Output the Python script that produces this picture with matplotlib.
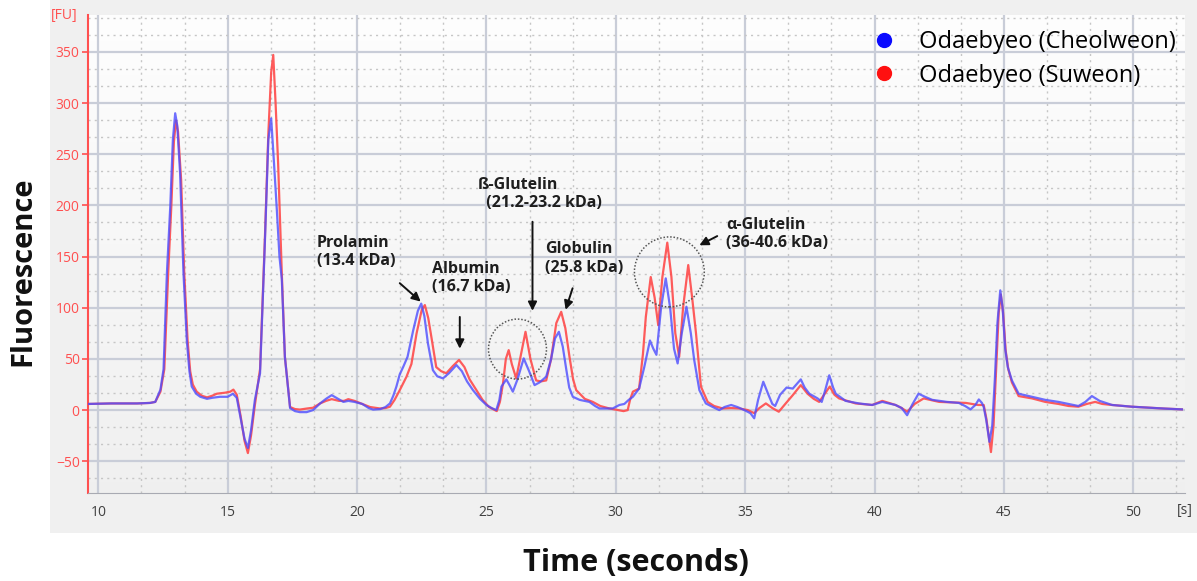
import numpy as np
import matplotlib.pyplot as plt
from matplotlib.lines import Line2D
from matplotlib.patches import Ellipse, Rectangle
from matplotlib.ticker import MultipleLocator

plt.rcParams['font.family'] = ['Open Sans', 'DejaVu Sans']

# ---- data ----
t_cheolweon = [9.6, 10.5, 11.5, 12.0, 12.2, 12.4, 12.52, 12.65, 12.78, 12.88, 12.97, 13.05, 13.16, 13.29,
               13.42, 13.52, 13.61, 13.78, 13.94, 14.2, 14.4, 14.7, 15.0, 15.2, 15.35, 15.5, 15.65, 15.78,
               15.9, 16.05, 16.25, 16.44, 16.57, 16.68, 16.79, 16.9, 17.0, 17.09, 17.21, 17.41, 17.6, 17.79,
               18.05, 18.3, 18.57, 18.8, 19.02, 19.2, 19.47, 19.66, 19.9, 20.2, 20.45, 20.62, 20.9, 21.1,
               21.27, 21.4, 21.52, 21.65, 21.78, 21.95, 22.17, 22.35, 22.48, 22.6, 22.74, 22.93, 23.1, 23.32,
               23.55, 23.84, 24.05, 24.25, 24.48, 24.75, 25.0, 25.2, 25.38, 25.5, 25.58, 25.77, 25.9, 26.02,
               26.2, 26.44, 26.65, 26.86, 27.05, 27.31, 27.5, 27.65, 27.8, 27.95, 28.09, 28.2, 28.34, 28.6,
               28.98, 29.2, 29.37, 29.88, 30.14, 30.33, 30.5, 30.66, 30.9, 31.1, 31.32, 31.45, 31.57, 31.75,
               31.93, 32.1, 32.25, 32.39, 32.55, 32.73, 32.9, 33.03, 33.23, 33.48, 33.75, 34.0, 34.2, 34.46,
               34.7, 34.97, 35.2, 35.35, 35.5, 35.7, 35.9, 36.05, 36.16, 36.35, 36.6, 36.84, 37.15, 37.3,
               37.48, 37.8, 37.96, 38.1, 38.25, 38.4, 38.5, 38.88, 39.4, 39.91, 40.3, 40.81, 41.05, 41.26,
               41.45, 41.7, 41.95, 42.23, 42.8, 43.26, 43.5, 43.71, 43.9, 44.03, 44.15, 44.22, 44.32, 44.44,
               44.55, 44.65, 44.75, 44.86, 44.95, 45.05, 45.15, 45.31, 45.57, 46.09, 46.6, 47.11, 47.5, 47.88,
               48.15, 48.4, 48.7, 49.18, 49.95, 50.5, 51.2, 51.88]
fu_cheolweon = [6, 6.5, 6.5, 7, 8, 20, 40, 134, 199, 264, 290, 278, 231, 134,
                68, 38, 23, 16, 13, 11, 12, 13, 13, 16, 12, -8, -28, -37,
                -20, 10, 36, 166, 264, 285, 241, 195, 150, 128, 52, 2, -1, -2,
                -2, 0, 6.5, 11, 14.6, 12, 8, 9, 8, 6, 2, 0.5, 1, 3,
                6.5, 14, 23, 35, 42, 52, 78, 97, 104, 92, 65, 39, 33, 31,
                36, 44, 38, 28, 19.5, 11, 5, 2, 0, 10, 23, 30, 24, 18,
                30, 50.5, 38, 24.4, 27, 32.6, 50, 70, 76.5, 62, 39, 22, 13, 10,
                8, 4, 1.6, 1.6, 5, 6, 10, 13, 21, 42, 68, 60, 54, 100,
                128.7, 100, 60, 45.6, 75, 101, 75, 49, 19.5, 6.5, 3, 0, 3, 5,
                3, 0, -3, -8, 10, 27.7, 15, 6, 4, 15, 22, 21, 30, 22,
                16, 11.4, 8, 20, 34, 22, 16, 9, 6.5, 5, 8, 5, 2, -5,
                5, 16, 13, 10, 8, 7, 4, 0.7, 5, 10.4, 7, 3, -10, -31,
                -15, 30, 85, 117, 100, 60, 42, 29, 16, 13, 10, 8, 6, 4,
                8, 13.7, 9, 5, 3.3, 2.5, 1.5, 0.7]

t_suweon = [9.6, 10.5, 11.5, 12.0, 12.2, 12.4, 12.55, 12.7, 12.82, 12.92, 13.0, 13.08, 13.2, 13.32,
            13.45, 13.55, 13.65, 13.8, 14.0, 14.2, 14.4, 14.58, 14.9, 15.1, 15.22, 15.35, 15.5, 15.65,
            15.78, 15.9, 16.05, 16.25, 16.44, 16.57, 16.68, 16.76, 16.85, 16.95, 17.09, 17.21, 17.41, 17.6,
            17.79, 18.05, 18.3, 18.57, 18.8, 19.02, 19.3, 19.5, 19.66, 19.9, 20.2, 20.5, 20.88, 21.1,
            21.27, 21.45, 21.65, 21.78, 21.91, 22.1, 22.3, 22.5, 22.62, 22.75, 22.87, 23.06, 23.25, 23.45,
            23.7, 23.94, 24.15, 24.35, 24.61, 24.85, 25.1, 25.4, 25.52, 25.64, 25.75, 25.86, 25.98, 26.15,
            26.3, 26.51, 26.7, 26.92, 27.1, 27.31, 27.5, 27.7, 27.89, 28.05, 28.21, 28.35, 28.47, 28.8,
            29.11, 29.4, 29.75, 30.1, 30.3, 30.46, 30.55, 30.66, 30.9, 31.05, 31.16, 31.35, 31.5, 31.64,
            31.8, 31.99, 32.15, 32.3, 32.45, 32.6, 32.8, 32.95, 33.1, 33.29, 33.55, 33.8, 34.13, 34.46,
            34.77, 35.1, 35.35, 35.55, 35.8, 36.05, 36.3, 36.55, 36.84, 37.15, 37.41, 37.65, 37.86, 38.05,
            38.27, 38.45, 38.63, 39.27, 39.91, 40.3, 40.81, 41.05, 41.26, 41.55, 41.9, 42.5, 43.0, 43.53,
            44.0, 44.22, 44.32, 44.5, 44.6, 44.7, 44.8, 44.88, 44.97, 45.07, 45.17, 45.31, 45.57, 46.09,
            46.6, 47.11, 47.5, 47.88, 48.2, 48.53, 48.8, 49.18, 49.95, 50.5, 51.2, 51.88]
fu_suweon = [6, 6.5, 6.5, 7, 8, 18, 40, 134, 199, 262, 283, 272, 225, 134,
             68, 38, 25, 18, 14, 12.4, 14, 16, 17, 18, 20, 15, -6, -30,
             -42, -25, 5, 40, 170, 270, 330, 347, 300, 240, 134, 52, 3, 1,
             0.5, 1.5, 2.3, 6.5, 9, 10.7, 9, 9, 10.7, 9, 6, 3, 1.6, 2,
             3.3, 10, 19.5, 26, 32.6, 45, 75, 98, 102.6, 90, 71.7, 42, 38, 36,
             43, 49, 42, 30, 19.5, 10, 3, -1, 8, 26, 50, 58.6, 45, 31,
             50, 76.5, 50, 29, 28, 29, 50, 85, 96, 80, 52, 30, 19.5, 11,
             8, 4, 1.6, 0, -1, 0, 10, 18, 21, 55, 91, 130, 110, 83,
             130, 163.6, 130, 75, 52, 100, 141.7, 110, 75, 23, 8, 4, 1.6, 2,
             1.6, 0, -3, 2, 6.5, 2, -1.6, 6, 14.6, 24.4, 16, 11, 8, 15,
             23, 15, 11.4, 6.5, 5, 9, 5, 2, -1.6, 6, 11.4, 8, 7.5, 7,
             5, 5, -8, -41, -15, 40, 95, 113, 95, 58, 40, 27, 13.7, 11.4,
             8, 6, 4, 3.3, 6, 8, 6, 5, 3.3, 2.5, 1.5, 0.7]

series_names = ['Odaebyeo (Cheolweon)', 'Odaebyeo (Suweon)']
x_ticks = [10, 15, 20, 25, 30, 35, 40, 45, 50]
y_ticks = [-50, 0, 50, 100, 150, 200, 250, 300, 350]

fig = plt.figure(figsize=(11.97, 5.81), dpi=100)
W, H = 1197, 581

# light panel behind the chart
fig.patches.append(Rectangle((50 / W, 1 - 533 / H), 1 - 50 / W, 533 / H, transform=fig.transFigure,
                             facecolor='#f0f0f0', edgecolor='none', zorder=-5))

ax = fig.add_axes([88 / W, 1 - 493 / H, (1185 - 88) / W, (493 - 15) / H])
ax.set_xlim(9.6, 52)
ax.set_ylim(-81, 386)
ax.patch.set_alpha(0)
# plot area: white at the top fading to light grey
shade = np.linspace(0.995, 0.94, 256)
grad = np.dstack([shade, shade, shade]).reshape(256, 1, 3)
ax.imshow(grad, extent=[0, 1, 0, 1], transform=ax.transAxes, aspect='auto', zorder=0, origin='upper')

ax.xaxis.set_major_locator(MultipleLocator(5))
ax.xaxis.set_minor_locator(MultipleLocator(5 / 3))
ax.yaxis.set_major_locator(MultipleLocator(50))
ax.yaxis.set_minor_locator(MultipleLocator(50 / 3))
ax.grid(which='major', color='#c9cdd8', lw=1.6, zorder=1)
ax.grid(which='minor', color='#c6c6c6', lw=1.0, ls=(0, (1.5, 3)), zorder=1)
ax.set_axisbelow(True)
ax.set_xticks(x_ticks)
ax.set_yticks(y_ticks)

ax.plot(t_suweon, fu_suweon, color='#ff4a4a', lw=1.6, alpha=0.9, zorder=3)
ax.plot(t_cheolweon, fu_cheolweon, color='#4c4cff', lw=1.6, alpha=0.8, zorder=4)

for s in ['top', 'right']:
    ax.spines[s].set_visible(False)
ax.spines['left'].set_color('#ff5050')
ax.spines['left'].set_linewidth(1.5)
ax.spines['bottom'].set_color('#a8aab2')
ax.tick_params(axis='y', colors='#ff5050', labelsize=10, length=4, width=1.2, pad=2)
ax.tick_params(axis='x', colors='#404040', labelsize=10, length=0, pad=9)
ax.tick_params(which='minor', length=0)
ax.text(-0.01, 1.0, '[FU]', transform=ax.transAxes, ha='right', va='center', color='#ff5050', fontsize=10)
ax.text(1.0, -0.036, '[s]', transform=ax.transAxes, ha='center', va='center', color='#404040', fontsize=10)

# annotations
ann = dict(fontsize=11.5, fontweight='bold', color='#1e1e1e', va='top', ha='left', zorder=6)
arw = dict(arrowstyle='-|>', color='#111111', lw=1.4, mutation_scale=13, shrinkA=0, shrinkB=0)
ax.text(18.45, 171, 'Prolamin\n(13.4 kDa)', linespacing=1.2, **ann)
ax.annotate('', xy=(22.46, 106), xytext=(21.65, 124), arrowprops=arw)
ax.text(22.88, 146, 'Albumin\n(16.7 kDa)', linespacing=1.2, **ann)
ax.annotate('', xy=(23.97, 60), xytext=(23.97, 91), arrowprops=arw)
ax.text(24.66, 228, 'ß-Glutelin\n  (21.2-23.2 kDa)', linespacing=1.2, **ann)
ax.annotate('', xy=(26.78, 97), xytext=(26.78, 184), arrowprops=arw)
ax.text(27.28, 165, 'Globulin\n(25.8 kDa)', linespacing=1.2, **ann)
ax.annotate('', xy=(28.06, 98), xytext=(28.33, 119), arrowprops=arw)
ax.text(34.25, 189, 'α-Glutelin\n(36-40.6 kDa)', linespacing=1.2, **ann)
ax.annotate('', xy=(33.23, 161), xytext=(33.92, 170), arrowprops=arw)
ax.add_patch(Ellipse((26.2, 59.6), 2.24, 58.6, fill=False, ec='#555555', lw=1.1, ls=(0, (1, 1.2)), zorder=5))
ax.add_patch(Ellipse((32.07, 135), 2.7, 68.4, fill=False, ec='#555555', lw=1.1, ls=(0, (1, 1.2)), zorder=5))

handles = [Line2D([], [], marker='o', ls='', color='#0a0aff', markersize=10),
           Line2D([], [], marker='o', ls='', color='#ff1010', markersize=10)]
ax.legend(handles, series_names, loc='upper left', bbox_to_anchor=(860 / W, 1 - 18 / H),
          bbox_transform=fig.transFigure, frameon=False, fontsize=17, handletextpad=1.0,
          labelspacing=0.42, handlelength=1.0, borderpad=0)

fig.text(23 / W, 1 - 271 / H, 'Fluorescence', rotation=90, ha='center', va='center',
         fontsize=21, fontweight='bold', color='#111111')
fig.text(636 / W, 1 - 563 / H, 'Time (seconds)', ha='center', va='center',
         fontsize=22, fontweight='bold', color='#111111')

fig.savefig('out.png', dpi=100)
